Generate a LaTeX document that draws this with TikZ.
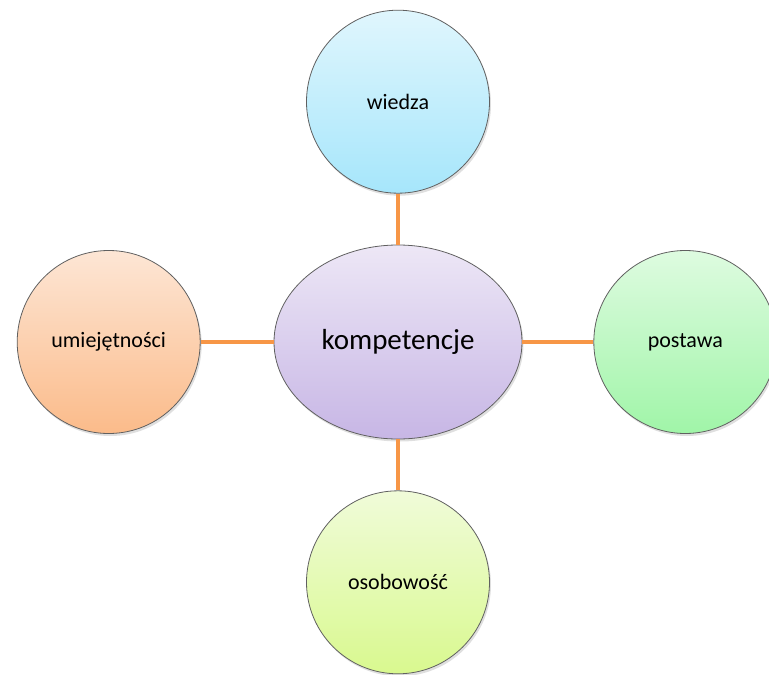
\documentclass[tikz,border=0pt]{standalone}
\usepackage{fontspec}
\setmainfont{Carlito}
\usepackage{tikz}
\usetikzlibrary{positioning,shapes.geometric,shadows}

\definecolor{linkorange}{RGB}{247,150,70}
\definecolor{compTop}{RGB}{237,231,246}
\definecolor{compBot}{RGB}{199,182,229}
\definecolor{wiedzaTop}{RGB}{224,246,253}
\definecolor{wiedzaBot}{RGB}{166,230,251}
\definecolor{umiejTop}{RGB}{253,230,213}
\definecolor{umiejBot}{RGB}{251,187,138}
\definecolor{postawaTop}{RGB}{222,251,224}
\definecolor{postawaBot}{RGB}{160,245,168}
\definecolor{osobTop}{RGB}{240,251,217}
\definecolor{osobBot}{RGB}{217,249,143}

\begin{document}
\begin{tikzpicture}[
  x=1pt,y=-1pt,
  font=\fontsize{22}{26}\selectfont,
  bubble/.style={circle,draw=gray!75!black,line width=0.8pt,minimum size=183pt,
                 inner sep=0pt,shading=axis,
                 drop shadow={opacity=0.25,shadow xshift=1.5pt,shadow yshift=-2.5pt}},
  core/.style={bubble,ellipse,minimum width=248pt,minimum height=194pt,
               font=\fontsize{29}{33}\selectfont,
               top color=compTop,bottom color=compBot},
  link/.style={draw=linkorange,line width=3.5pt},
]
  \useasboundingbox (0,0) rectangle (769,675);

  \node[core] (komp) at (398,342) {kompetencje};
  \node[bubble,top color=wiedzaTop,bottom color=wiedzaBot,
        above=51pt of komp] (wiedza) {wiedza};
  \node[bubble,top color=umiejTop,bottom color=umiejBot,
        left=73pt of komp] (umiej) {umiejętności};
  \node[bubble,top color=postawaTop,bottom color=postawaBot,
        right=71pt of komp] (postawa) {postawa};
  \node[bubble,top color=osobTop,bottom color=osobBot,
        below=51pt of komp] (osob) {osobowość};

  \draw[link] (komp) -- (wiedza);
  \draw[link] (komp) -- (umiej);
  \draw[link] (komp) -- (postawa);
  \draw[link] (komp) -- (osob);
\end{tikzpicture}
\end{document}
